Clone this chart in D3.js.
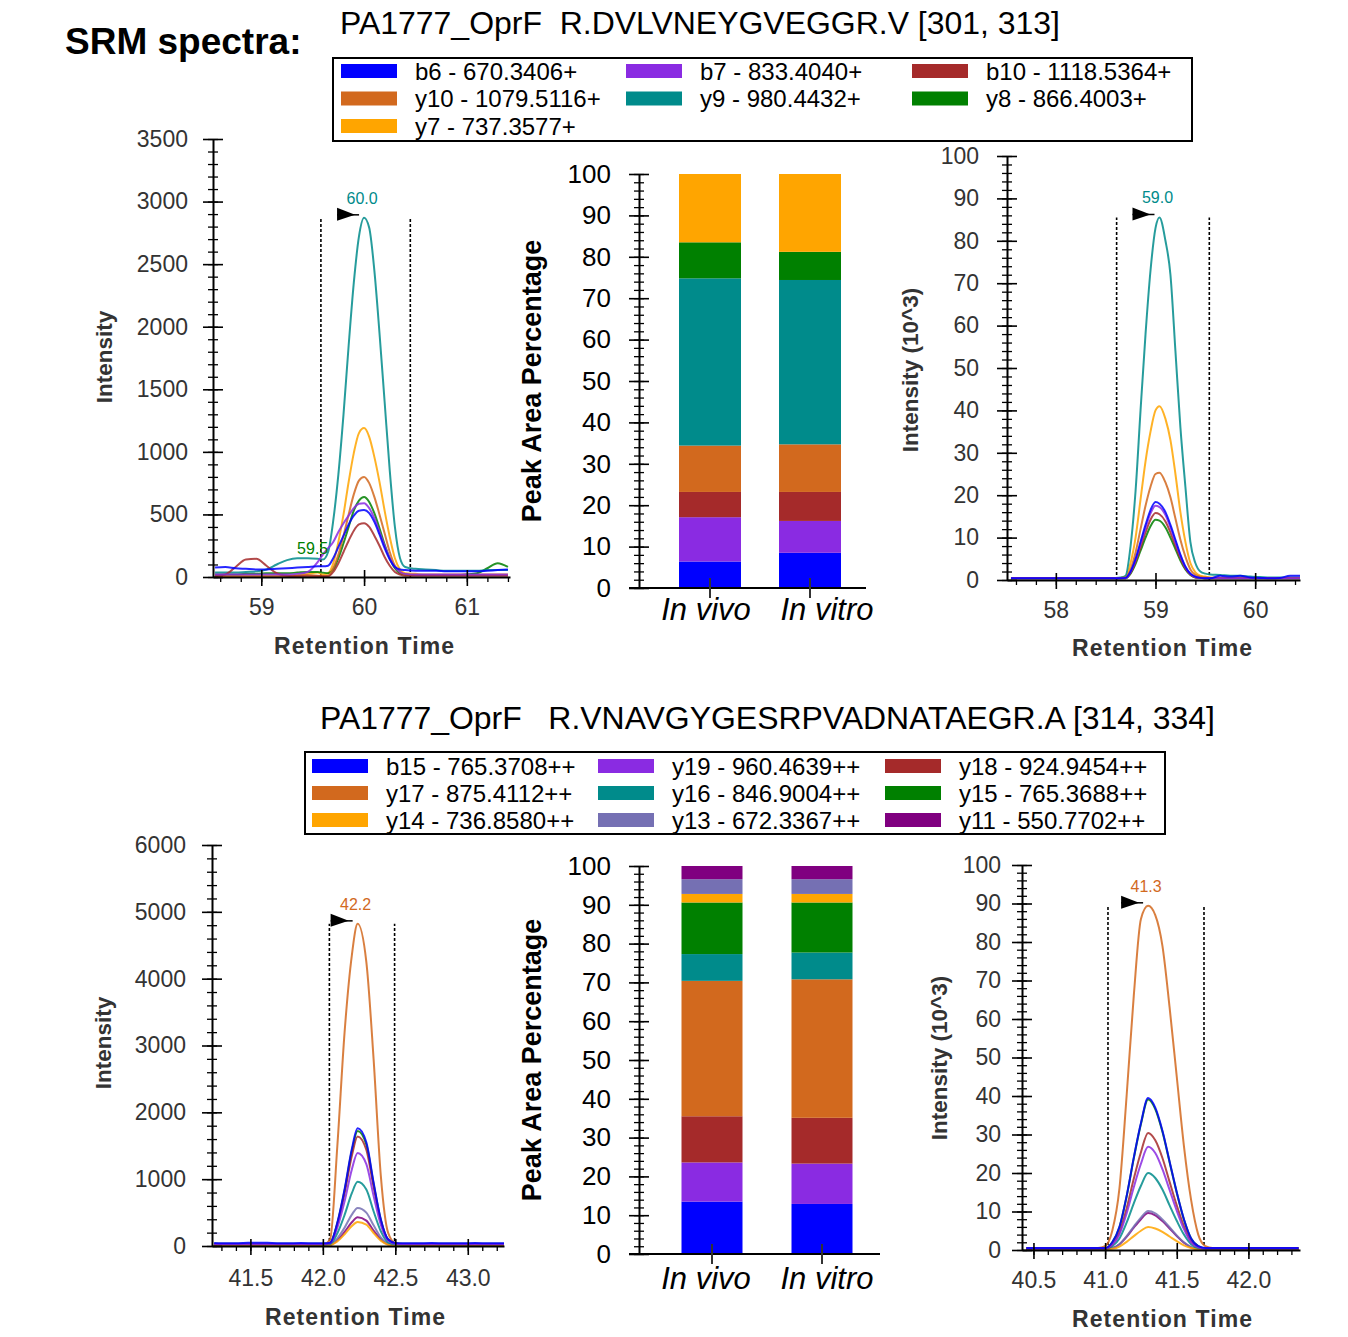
<!DOCTYPE html>
<html>
<head>
<meta charset="utf-8">
<script src="https://cdn.jsdelivr.net/npm/d3@7"></script>
<style>
  body { margin: 0; background: #fff; }
  svg { display: block; font-family: "Liberation Sans", Arial, sans-serif; }
</style>
</head>
<body>
<svg id="fig" width="1348" height="1337"></svg>
<script>
// ---------------- data ----------------
const figureTitle = "SRM spectra:";
const pep1Title = "PA1777_OprF  R.DVLVNEYGVEGGR.V [301, 313]";
const pep2Title = "PA1777_OprF   R.VNAVGYGESRPVADNATAEGR.A [314, 334]";

const pep1Ions = ["b6 - 670.3406+", "b7 - 833.4040+", "b10 - 1118.5364+",
                  "y10 - 1079.5116+", "y9 - 980.4432+", "y8 - 866.4003+",
                  "y7 - 737.3577+"];
const pep2Ions = ["b15 - 765.3708++", "y19 - 960.4639++", "y18 - 924.9454++",
                  "y17 - 875.4112++", "y16 - 846.9004++", "y15 - 765.3688++",
                  "y14 - 736.8580++", "y13 - 672.3367++", "y11 - 550.7702++"];

const categories = ["In vivo", "In vitro"];

// peak area percentages, stacked bottom-to-top in ion order
const pep1InVivo  = [6.4, 10.7, 6.1, 11.2, 40.4, 8.7, 16.5];
const pep1InVitro = [8.5, 7.7, 7.0, 11.5, 39.7, 6.8, 18.8];
const pep2InVivo  = [13.5, 10.1, 11.9, 34.9, 6.9, 13.3, 2.2, 3.8, 3.4];
const pep2InVitro = [12.9, 10.4, 11.8, 35.7, 6.9, 12.9, 2.2, 3.8, 3.4];

// chromatogram: peptide 1, in vivo (intensity)
const rtA = [58.55, 58.65, 58.75, 58.85, 58.95, 59.05, 59.15, 59.25, 59.35, 59.45,
             59.55, 59.6, 59.65, 59.7, 59.75, 59.8, 59.85, 59.9, 59.95, 60.0,
             60.05, 60.1, 60.15, 60.2, 60.25, 60.3, 60.35, 60.4, 60.5, 60.6,
             60.7, 60.8, 60.9, 61.0, 61.1, 61.2, 61.3, 61.4];
const a_b6  = [75, 80, 70, 65, 60, 60, 65, 70, 75, 80, 85, 85, 90, 150, 240, 330, 420, 490, 530, 535,
               510, 440, 340, 230, 140, 80, 60, 55, 50, 50, 50, 45, 45, 45, 45, 50, 55, 60];
const a_b7  = [20, 20, 20, 20, 20, 20, 20, 20, 25, 40, 120, 180, 230, 280, 360, 430, 490, 550, 585, 590,
               550, 470, 360, 250, 150, 80, 40, 25, 20, 20, 20, 20, 20, 20, 20, 20, 20, 20];
const a_b10 = [10, 20, 80, 140, 145, 90, 30, 10, 5, 5, 5, 5, 5, 40, 110, 200, 290, 370, 420, 430,
               400, 330, 250, 160, 90, 40, 20, 10, 10, 10, 10, 10, 10, 10, 10, 10, 10, 10];
const a_y10 = [5, 5, 5, 5, 5, 5, 5, 5, 10, 15, 10, 5, 10, 70, 180, 330, 500, 660, 770, 800,
               750, 640, 500, 350, 200, 90, 40, 20, 15, 15, 15, 15, 15, 15, 15, 15, 15, 15];
const a_y9  = [35, 35, 35, 40, 45, 60, 100, 135, 150, 150, 145, 140, 200, 450, 820, 1300, 1850, 2350, 2720, 2870,
               2790, 2450, 1950, 1400, 850, 400, 150, 80, 65, 60, 55, 50, 50, 50, 50, 55, 55, 55];
const a_y8  = [20, 20, 20, 25, 25, 30, 30, 30, 35, 40, 40, 35, 30, 60, 150, 270, 400, 530, 610, 640,
               600, 510, 390, 260, 150, 70, 30, 20, 15, 15, 15, 15, 15, 20, 30, 70, 110, 80];
const a_y7  = [10, 10, 10, 10, 10, 10, 10, 10, 15, 25, 35, 20, 30, 110, 280, 500, 760, 990, 1150, 1190,
               1120, 960, 760, 530, 320, 150, 60, 30, 25, 20, 20, 20, 20, 20, 20, 20, 20, 20];

// chromatogram: peptide 1, in vitro (intensity x 10^3)
const rtB = [57.55, 57.7, 57.85, 58.0, 58.15, 58.3, 58.45, 58.6, 58.65,
             58.7, 58.75, 58.8, 58.85, 58.9, 58.95, 59.0, 59.04, 59.1, 59.15, 59.2, 59.25,
             59.3, 59.35, 59.4, 59.45, 59.5, 59.55,
             59.65, 59.75, 59.85, 59.95, 60.05, 60.15, 60.25, 60.35, 60.45];
const b_b6  = [0.4, 0.4, 0.4, 0.4, 0.4, 0.4, 0.4, 0.4, 0.4,
               0.5, 2, 5, 9, 13, 16.5, 18.4, 18, 16, 13, 9.5, 6, 3.2, 1.5, 0.8, 0.5, 0.4, 0.4,
               1.0, 0.8, 1.0, 0.6, 0.5, 0.4, 0.5, 1.0, 1.0];
const b_b7  = [0.4, 0.4, 0.4, 0.4, 0.4, 0.4, 0.4, 0.4, 0.4,
               0.4, 1.9, 4.7, 8.5, 12.3, 15.7, 17.5, 17.2, 15.3, 12.4, 9, 5.7, 3, 1.4, 0.7, 0.5, 0.4, 0.4,
               0.4, 0.4, 0.4, 0.4, 0.4, 0.4, 0.4, 0.4, 0.4];
const b_b10 = [0.4, 0.4, 0.4, 0.4, 0.4, 0.4, 0.4, 0.4, 0.4,
               0.4, 1.7, 4.3, 7.7, 11.2, 14.2, 15.8, 15.5, 13.8, 11.2, 8.1, 5.1, 2.7, 1.3, 0.6, 0.5, 0.4, 0.4,
               0.4, 0.4, 0.4, 0.4, 0.4, 0.4, 0.4, 0.4, 0.4];
const b_y10 = [0.5, 0.5, 0.5, 0.5, 0.5, 0.5, 0.5, 0.5, 0.5,
               0.6, 2.5, 6.5, 12, 17.5, 22, 25, 25.3, 23, 19.5, 14.5, 9.5, 5.5, 2.5, 1.2, 0.8, 0.6, 0.5,
               0.5, 0.5, 0.5, 0.5, 0.5, 0.5, 0.5, 0.5, 0.5];
const b_y9  = [0.5, 0.5, 0.5, 0.5, 0.5, 0.5, 0.5, 0.5, 0.6,
               1, 8, 21, 40, 58, 73, 83, 85.5, 80, 72, 54, 36, 22, 9, 4, 2, 1.5, 1.3,
               1.2, 1, 1, 0.8, 0.7, 0.6, 0.6, 0.6, 0.6];
const b_y8  = [0.4, 0.4, 0.4, 0.4, 0.4, 0.4, 0.4, 0.4, 0.4,
               0.4, 1.5, 3.8, 6.9, 10, 12.7, 14.2, 14, 12.4, 10, 7.3, 4.6, 2.5, 1.2, 0.6, 0.5, 0.4, 0.4,
               0.4, 0.4, 0.4, 0.4, 0.4, 0.4, 0.4, 0.4, 0.4];
const b_y7  = [0.5, 0.5, 0.5, 0.5, 0.5, 0.5, 0.5, 0.5, 0.5,
               0.8, 4, 10, 19, 28, 35, 40, 41, 38, 33, 25, 16, 9, 4, 1.8, 1, 0.8, 0.6,
               0.5, 0.5, 0.5, 0.5, 0.5, 0.5, 0.5, 0.5, 0.5];

// chromatogram: peptide 2, in vivo (intensity)
const rtC = [41.25, 41.35, 41.45, 41.55, 41.65, 41.75, 41.85, 41.95, 42.0, 42.05,
             42.1, 42.15, 42.2, 42.24, 42.3, 42.35, 42.4, 42.45, 42.5, 42.55,
             42.65, 42.75, 42.85, 42.95, 43.05, 43.15, 43.25];
const c_b15 = [45, 40, 45, 50, 45, 40, 45, 40, 40, 50, 350, 850, 1450, 1760, 1550, 950, 400, 100, 45, 40,
               40, 45, 40, 40, 45, 40, 40];
const c_y19 = [30, 30, 30, 30, 30, 30, 30, 30, 30, 40, 275, 670, 1145, 1390, 1225, 750, 315, 80, 35, 30,
               30, 30, 30, 30, 30, 30, 30];
const c_y18 = [25, 25, 25, 25, 25, 25, 25, 25, 25, 45, 325, 790, 1350, 1640, 1440, 885, 370, 95, 40, 25,
               25, 25, 25, 25, 25, 25, 25];
const c_y17 = [20, 20, 20, 20, 20, 20, 20, 20, 20, 100, 1500, 3200, 4350, 4820, 4250, 2800, 1050, 200, 40, 25,
               20, 20, 20, 20, 20, 20, 20];
const c_y16 = [20, 20, 20, 20, 20, 20, 20, 20, 20, 30, 190, 465, 790, 960, 845, 520, 220, 55, 25, 20,
               20, 20, 20, 20, 20, 20, 20];
const c_y15 = [35, 35, 35, 35, 35, 35, 35, 35, 35, 48, 340, 830, 1420, 1720, 1520, 930, 390, 98, 44, 35,
               35, 35, 35, 35, 35, 35, 35];
const c_y14 = [10, 10, 10, 10, 10, 10, 10, 10, 10, 15, 70, 175, 300, 360, 320, 195, 80, 20, 10, 10,
               10, 10, 10, 10, 10, 10, 10];
const c_y13 = [15, 15, 15, 15, 15, 15, 15, 15, 15, 20, 115, 275, 470, 570, 500, 310, 130, 35, 20, 15,
               15, 15, 15, 15, 15, 15, 15];
const c_y11 = [15, 15, 15, 15, 15, 15, 15, 15, 15, 15, 85, 210, 355, 430, 380, 230, 100, 25, 15, 15,
               15, 15, 15, 15, 15, 15, 15];

// chromatogram: peptide 2, in vitro (intensity x 10^3)
const rtD = [40.45, 40.55, 40.65, 40.75, 40.85, 40.95, 41.0,
             41.05, 41.1, 41.15, 41.2, 41.25, 41.3, 41.35, 41.4, 41.45, 41.5, 41.55, 41.6, 41.65,
             41.7, 41.75, 41.85, 41.95, 42.05, 42.15, 42.25, 42.35];
const d_b15 = [0.5, 0.5, 0.5, 0.5, 0.5, 0.5, 0.5,
               2, 6, 14, 24, 33, 39.5, 37, 31, 23, 15, 8, 3, 1,
               0.5, 0.5, 0.5, 0.5, 0.5, 0.5, 0.5, 0.5];
const d_y19 = [0.4, 0.4, 0.4, 0.4, 0.4, 0.4, 0.4,
               1.4, 4.1, 9.5, 16.3, 22.4, 26.8, 25.2, 21, 15.6, 10.2, 5.4, 2, 0.7,
               0.4, 0.4, 0.4, 0.4, 0.4, 0.4, 0.4, 0.4];
const d_y18 = [0.4, 0.4, 0.4, 0.4, 0.4, 0.4, 0.4,
               1.5, 4.6, 10.8, 18.5, 25.4, 30.4, 28.5, 23.9, 17.7, 11.6, 6.2, 2.3, 0.8,
               0.4, 0.4, 0.4, 0.4, 0.4, 0.4, 0.4, 0.4];
const d_y17 = [0.5, 0.5, 0.5, 0.5, 0.5, 0.5, 1,
               5, 16, 40, 66, 86, 89.4, 87, 79, 63, 45, 27, 13, 4,
               1, 0.5, 0.5, 0.5, 0.5, 0.5, 0.5, 0.5];
const d_y16 = [0.3, 0.3, 0.3, 0.3, 0.3, 0.3, 0.3,
               1, 3, 7.1, 12.1, 16.7, 20, 18.7, 15.7, 11.6, 7.6, 4, 1.5, 0.5,
               0.3, 0.3, 0.3, 0.3, 0.3, 0.3, 0.3, 0.3];
const d_y15 = [0.4, 0.4, 0.4, 0.4, 0.4, 0.4, 0.4,
               2, 5.9, 13.9, 23.8, 32.7, 39.1, 36.6, 30.7, 22.8, 14.9, 7.9, 3, 1,
               0.4, 0.4, 0.4, 0.4, 0.4, 0.4, 0.4, 0.4];
const d_y14 = [0.2, 0.2, 0.2, 0.2, 0.2, 0.2, 0.2,
               0.3, 0.9, 2.1, 3.6, 5, 6, 5.6, 4.7, 3.5, 2.3, 1.2, 0.5, 0.2,
               0.2, 0.2, 0.2, 0.2, 0.2, 0.2, 0.2, 0.2];
const d_y13 = [0.3, 0.3, 0.3, 0.3, 0.3, 0.3, 0.3,
               0.5, 1.5, 3.6, 6.1, 8.4, 10.1, 9.5, 7.9, 5.9, 3.8, 2, 0.8, 0.3,
               0.3, 0.3, 0.3, 0.3, 0.3, 0.3, 0.3, 0.3];
const d_y11 = [0.3, 0.3, 0.3, 0.3, 0.3, 0.3, 0.3,
               0.5, 1.5, 3.4, 5.8, 8, 9.6, 9, 7.5, 5.6, 3.6, 1.9, 0.7, 0.3,
               0.3, 0.3, 0.3, 0.3, 0.3, 0.3, 0.3, 0.3];

// axis tick values
const ticksA_y = [0, 500, 1000, 1500, 2000, 2500, 3000, 3500];
const ticksA_x = [59, 60, 61];
const ticksB_y = [0, 10, 20, 30, 40, 50, 60, 70, 80, 90, 100];
const ticksB_x = [58, 59, 60];
const ticksC_y = [0, 1000, 2000, 3000, 4000, 5000, 6000];
const ticksC_x = [41.5, 42.0, 42.5, 43.0];
const ticksD_y = [0, 10, 20, 30, 40, 50, 60, 70, 80, 90, 100];
const ticksD_x = [40.5, 41.0, 41.5, 42.0];
const pctTicks = [0, 10, 20, 30, 40, 50, 60, 70, 80, 90, 100];

// ---------------- styles ----------------
const pep1Colors = ["#0000ff", "#8a2be2", "#a52a2a", "#d2691e", "#008b8b", "#008000", "#ffa500"];
const pep2Colors = ["#0000ff", "#8a2be2", "#a52a2a", "#d2691e", "#008b8b", "#008000", "#ffa500", "#7570b3", "#800080"];
const tickFont = "23px";
const axisInk = "#333";

const svg = d3.select("#fig");

// ---------------- titles ----------------
svg.append("text").attr("x", 65).attr("y", 54)
  .attr("font-size", 37).attr("font-weight", "bold").text(figureTitle);
svg.append("text").attr("x", 340).attr("y", 34).attr("font-size", 31.5)
  .style("white-space", "pre").attr("textLength", 720).attr("lengthAdjust", "spacingAndGlyphs")
  .text(pep1Title);
svg.append("text").attr("x", 320).attr("y", 729).attr("font-size", 31.5)
  .style("white-space", "pre").attr("textLength", 895).attr("lengthAdjust", "spacingAndGlyphs")
  .text(pep2Title);

// ---------------- legend ----------------
function legend(box, cols, rowsY, ions, colors) {
  const g = svg.append("g");
  g.append("rect").attr("x", box[0]).attr("y", box[1])
    .attr("width", box[2] - box[0]).attr("height", box[3] - box[1])
    .attr("fill", "#fff").attr("stroke", "#000").attr("stroke-width", 2);
  ions.forEach((name, i) => {
    const cx = cols[i % 3], cy = rowsY[Math.floor(i / 3)];
    g.append("rect").attr("x", cx).attr("y", cy - 7).attr("width", 56).attr("height", 14)
      .attr("fill", colors[i]);
    g.append("text").attr("x", cx + 74).attr("y", cy + 8.5)
      .attr("font-size", 24).text(name);
  });
}
legend([333, 58, 1192, 141], [341, 626, 912], [71, 98.5, 126], pep1Ions, pep1Colors);
legend([305, 752, 1165, 834], [312, 598, 885], [766, 793, 820], pep2Ions, pep2Colors);

// ---------------- chromatogram panels ----------------
function styleAxis(a) {
  a.attr("font-size", null).attr("font-family", null);
  a.select(".domain").attr("stroke", "#000").attr("stroke-width", 2);
  a.selectAll(".tick line").attr("stroke", "#000").attr("stroke-width", 1.6);
  a.selectAll(".tick text").attr("fill", axisInk).attr("font-size", tickFont);
}

function chromatogram(o) {
  const g = svg.append("g");
  const x = d3.scaleLinear().domain(o.xDomain).range(o.xRange);
  const y = d3.scaleLinear().domain(o.yDomain).range(o.yRange);
  const line = d3.line()
    .x((d, i) => x(o.times[i]))
    .y(d => y(d))
    .curve(d3.curveMonotoneX);

  const apexSeries = o.series[o.peakSeries];
  const apexVal = d3.max(apexSeries);
  const apexT = o.times[apexSeries.indexOf(apexVal)];
  const ax = x(apexT), ay = y(apexVal);

  // integration boundaries
  o.bounds.forEach(t => {
    g.append("line").attr("x1", x(t)).attr("x2", x(t))
      .attr("y1", y(0)).attr("y2", ay)
      .attr("stroke", "#000").attr("stroke-width", 1.6)
      .attr("stroke-dasharray", "3,2");
  });

  // transition traces, first ion drawn last (on top)
  d3.range(o.series.length).reverse().forEach(i => {
    g.append("path").datum(o.series[i]).attr("d", line)
      .attr("fill", "none").attr("stroke", o.colors[i])
      .attr("stroke-width", 2).attr("stroke-opacity", 0.85)
      .attr("stroke-linejoin", "round");
  });

  // peak flag and retention-time label
  g.append("path")
    .attr("d", `M${ax - 27},${ay - 10}L${ax - 27},${ay + 3}L${ax - 9},${ay - 3}Z`)
    .attr("fill", "#000");
  g.append("line").attr("x1", ax - 27).attr("x2", ax - 5)
    .attr("y1", ay - 3).attr("y2", ay - 3).attr("stroke", "#000").attr("stroke-width", 1.5);
  g.append("text").attr("x", ax - 2).attr("y", ay - 14)
    .attr("text-anchor", "middle").attr("font-size", 16)
    .attr("fill", o.colors[o.peakSeries]).text(apexT.toFixed(1));

  (o.extraLabels || []).forEach(l => {
    g.append("text").attr("x", x(l.t)).attr("y", y(l.v) - 18)
      .attr("text-anchor", "middle").attr("font-size", 16)
      .attr("fill", o.colors[l.series]).text(l.text);
  });

  // y axis: minor then major ticks, crossing the axis line
  g.append("g").attr("transform", `translate(${o.xRange[0]},0)`)
    .call(d3.axisLeft(y).tickValues(o.yMinor).tickSize(5).tickSizeOuter(0).tickFormat(""))
    .call(a => { styleAxis(a); a.select(".domain").remove(); a.selectAll(".tick line").attr("x1", 5).attr("stroke-width", 1.3); });
  g.append("g").attr("transform", `translate(${o.xRange[0]},0)`)
    .call(d3.axisLeft(y).tickValues(o.yTicks).tickSize(10).tickSizeOuter(0)
      .tickPadding(o.yPad).tickFormat(d3.format("d")))
    .call(a => { styleAxis(a); a.selectAll(".tick line").attr("x1", 10); });

  // x axis
  g.append("g").attr("transform", `translate(0,${o.yRange[0]})`)
    .call(d3.axisBottom(x).tickValues(o.xMinor).tickSize(5).tickSizeOuter(0).tickFormat(""))
    .call(a => { styleAxis(a); a.select(".domain").remove(); a.selectAll(".tick line").attr("stroke-width", 1.3); });
  g.append("g").attr("transform", `translate(0,${o.yRange[0]})`)
    .call(d3.axisBottom(x).tickValues(o.xTicks).tickSize(9).tickSizeOuter(0)
      .tickPadding(o.xPad).tickFormat(o.xFormat))
    .call(a => { styleAxis(a); a.selectAll(".tick line").attr("y1", -7); });

  // axis titles
  g.append("text").attr("x", o.xTitle[0]).attr("y", o.xTitle[1])
    .attr("text-anchor", "middle").attr("font-size", 23).attr("font-weight", "bold")
    .attr("fill", axisInk).attr("textLength", 180).attr("lengthAdjust", "spacing")
    .text("Retention Time");
  g.append("text").attr("transform", `translate(${o.yTitle[0]},${o.yTitle[1]}) rotate(-90)`)
    .attr("text-anchor", "middle").attr("font-size", 22.5).attr("font-weight", "bold")
    .attr("fill", axisInk).text(o.yLabel);
}

chromatogram({
  times: rtA, series: [a_b6, a_b7, a_b10, a_y10, a_y9, a_y8, a_y7], colors: pep1Colors,
  peakSeries: 4, bounds: [59.58, 60.45],
  extraLabels: [{ text: "59.5", t: 59.5, v: 40, series: 5 }],
  xDomain: [58.53, 61.42], xRange: [213, 510], yDomain: [0, 3500], yRange: [577, 139],
  yTicks: ticksA_y, yMinor: d3.range(0, 3501, 100), xTicks: ticksA_x, xMinor: d3.range(58.6, 61.41, 0.2),
  xFormat: d3.format("d"), yPad: 15, xPad: 13,
  xTitle: [364, 654], yTitle: [112, 357], yLabel: "Intensity"
});
chromatogram({
  times: rtB, series: [b_b6, b_b7, b_b10, b_y10, b_y9, b_y8, b_y7], colors: pep1Colors,
  peakSeries: 4, bounds: [58.61, 59.54],
  xDomain: [57.51, 60.45], xRange: [1007, 1300], yDomain: [0, 100], yRange: [580, 156],
  yTicks: ticksB_y, yMinor: d3.range(0, 101, 2), xTicks: ticksB_x, xMinor: d3.range(57.6, 60.41, 0.2),
  xFormat: d3.format("d"), yPad: 18, xPad: 13,
  xTitle: [1162, 656], yTitle: [918, 370], yLabel: "Intensity (10^3)"
});
chromatogram({
  times: rtC, series: [c_b15, c_y19, c_y18, c_y17, c_y16, c_y15, c_y14, c_y13, c_y11], colors: pep2Colors,
  peakSeries: 3, bounds: [42.045, 42.495],
  xDomain: [41.235, 43.25], xRange: [212, 504], yDomain: [0, 6000], yRange: [1246, 845],
  yTicks: ticksC_y, yMinor: d3.range(0, 6001, 200), xTicks: ticksC_x, xMinor: d3.range(41.3, 43.21, 0.1),
  xFormat: d3.format(".1f"), yPad: 16, xPad: 15,
  xTitle: [355, 1325], yTitle: [111, 1043], yLabel: "Intensity"
});
chromatogram({
  times: rtD, series: [d_b15, d_y19, d_y18, d_y17, d_y16, d_y15, d_y14, d_y13, d_y11], colors: pep2Colors,
  peakSeries: 3, bounds: [41.02, 41.69],
  xDomain: [40.42, 42.36], xRange: [1022, 1300], yDomain: [0, 100], yRange: [1250, 865],
  yTicks: ticksD_y, yMinor: d3.range(0, 101, 2), xTicks: ticksD_x, xMinor: d3.range(40.5, 42.31, 0.1),
  xFormat: d3.format(".1f"), yPad: 11, xPad: 13,
  xTitle: [1162, 1327], yTitle: [947, 1058], yLabel: "Intensity (10^3)"
});

// ---------------- peak area bar charts ----------------
function barChart(o) {
  const g = svg.append("g");
  const rows = categories.map((c, ci) => {
    const r = { category: c };
    o.ions.forEach((k, i) => { r[k] = o.values[ci][i]; });
    return r;
  });
  const stacked = d3.stack().keys(o.ions)(rows);
  const x = d3.scalePoint().domain(categories).range(o.xRange).padding(0.5);
  const y = d3.scaleLinear().domain([0, 100]).range([o.y0, o.y100]);

  stacked.forEach((s, i) => {
    g.selectAll(null).data(s).join("rect")
      .attr("x", d => x(d.data.category) - o.bw / 2)
      .attr("y", d => y(d[1]))
      .attr("width", o.bw)
      .attr("height", d => y(d[0]) - y(d[1]))
      .attr("fill", o.colors[i]);
  });

  // y axis
  g.append("g").attr("transform", `translate(${o.axisX},0)`)
    .call(d3.axisLeft(y).tickValues(d3.range(0, 101, 2)).tickSize(5).tickSizeOuter(0).tickFormat(""))
    .call(a => { styleAxis(a); a.select(".domain").remove(); a.selectAll(".tick line").attr("x1", 5).attr("stroke-width", 1.3); });
  g.append("g").attr("transform", `translate(${o.axisX},0)`)
    .call(d3.axisLeft(y).tickValues(pctTicks).tickSize(10).tickSizeOuter(0).tickPadding(18))
    .call(a => {
      styleAxis(a);
      a.selectAll(".tick line").attr("x1", 10);
      a.selectAll(".tick text").attr("fill", "#000").attr("font-size", 26);
    });

  // x axis with category ticks
  g.append("line").attr("x1", o.axisX - 10).attr("x2", o.xEnd)
    .attr("y1", o.y0).attr("y2", o.y0).attr("stroke", "#000").attr("stroke-width", 2);
  categories.forEach((c, i) => {
    g.append("line").attr("x1", x(c)).attr("x2", x(c))
      .attr("y1", o.y0 - 10).attr("y2", o.y0 + 10).attr("stroke", "#333").attr("stroke-width", 2);
    g.append("text").attr("x", o.labelX[i]).attr("y", o.labelY)
      .attr("text-anchor", "middle").attr("font-size", 31).attr("font-style", "italic")
      .text(c);
  });

  g.append("text").attr("transform", `translate(541,${o.titleY}) rotate(-90)`)
    .attr("text-anchor", "middle").attr("font-size", 27).attr("font-weight", "bold")
    .text("Peak Area Percentage");
}

barChart({
  ions: pep1Ions, colors: pep1Colors, values: [pep1InVivo, pep1InVitro],
  xRange: [660, 860], bw: 62, y0: 588, y100: 174, axisX: 639, xEnd: 866,
  labelX: [706, 827], labelY: 620, titleY: 381
});
barChart({
  ions: pep2Ions, colors: pep2Colors, values: [pep2InVivo, pep2InVitro],
  xRange: [657, 877], bw: 61, y0: 1254, y100: 866, axisX: 639, xEnd: 880,
  labelX: [706, 827], labelY: 1289, titleY: 1060
});
</script>
</body>
</html>
